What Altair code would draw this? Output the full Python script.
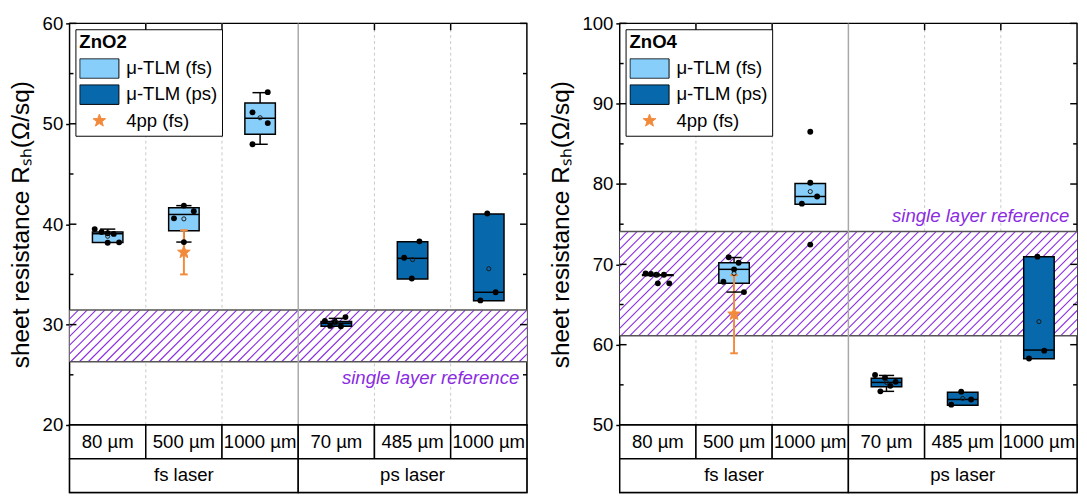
import math
import altair as alt
import pandas as pd

FONT = "Liberation Sans"
LIGHT = "#87CEFA"
DARK = "#0868AC"
ORANGE = "#F28A3C"
PURPLE = "#8A2BE2"
W = 468
H = 411
TH = 69
FS = 19
TFS = 25
COLW = W / 6

# ---------------- data ----------------
cats = ["80 µm", "500 µm", "1000 µm", "70 µm", "485 µm", "1000 µm"]
lasers = ["fs laser", "ps laser"]
kinds = ["fs", "fs", "fs", "ps", "ps", "ps"]
series = ["μ-TLM (fs)", "μ-TLM (ps)", "4pp (fs)"]
ytitle = "sheet resistance Rₛₕ(Ω/sq)"

# ZnO2
zno2_q1 = [38.17, 39.35, 48.96, 29.84, 34.55, 32.38]
zno2_med = [39.05, 40.97, 50.55, 30.14, 36.60, 33.22]
zno2_q3 = [39.22, 41.63, 52.08, 30.30, 38.25, 41.01]
zno2_wlo = [38.17, 38.22, 47.96, 29.84, 34.55, 32.38]
zno2_whi = [39.51, 41.85, 53.10, 30.62, 38.25, 41.01]
zno2_mean = [38.80, 40.53, 50.60, 30.20, 36.47, 35.56]
zno2_pts = [[39.51, 39.22, 39.10, 39.03, 38.15, 38.19],
            [41.85, 41.30, 40.58, 38.22],
            [53.15, 51.14, 50.07, 47.96],
            [30.36, 29.87, 30.26, 29.84, 30.75],
            [38.29, 36.66, 34.59],
            [41.07, 33.22, 32.41]]
zno2_jit = [[-0.17, -0.08, 0.0, 0.08, 0.0, 0.15],
            [0.0, 0.13, -0.13, 0.0],
            [0.1, -0.1, 0.1, -0.1],
            [-0.15, -0.08, -0.02, 0.06, 0.12],
            [0.09, -0.11, -0.01],
            [-0.02, 0.09, -0.11]]
zno2_4pp = [37.2, 35.0, 39.4]   # value, low, high (500 µm fs)
zno2_band = [26.3, 31.45]
zno2_ref = [5.9, 24.7]
zno2_dom = [20, 60]
zno2_major = [20, 30, 40, 50, 60]
zno2_minor = [25, 35, 45, 55]

# ZnO4
zno4_q1 = [68.62, 67.64, 77.49, 54.77, 52.45, 58.24]
zno4_med = [68.67, 69.38, 78.45, 55.30, 53.18, 59.33]
zno4_q3 = [68.72, 70.19, 80.07, 55.81, 54.07, 70.96]
zno4_wlo = [68.62, 66.55, 77.49, 54.19, 52.45, 58.24]
zno4_whi = [68.72, 70.85, 80.07, 56.17, 54.07, 70.96]
zno4_mean = [68.70, 68.86, 79.06, 55.30, 53.30, 62.87]
zno4_pts = [[68.86, 68.80, 68.70, 68.70, 67.64, 67.64],
            [70.88, 70.20, 69.38, 67.84, 66.55],
            [86.51, 80.16, 78.45, 77.56, 72.46],
            [56.22, 55.89, 54.88, 55.37, 54.19],
            [54.15, 53.18, 52.53],
            [70.96, 59.26, 58.28]]
zno4_jit = [[-0.16, -0.09, -0.02, 0.08, 0.0, 0.15],
            [-0.07, 0.06, 0.0, -0.14, 0.13],
            [0.0, 0.0, 0.09, -0.11, 0.0],
            [-0.15, -0.02, 0.05, 0.12, -0.08],
            [-0.02, 0.11, -0.15],
            [-0.02, 0.07, -0.13]]
zno4_4pp = [63.8, 58.93, 68.65]
zno4_band = [61.1, 74.1]
zno4_ref = [5.9, 75.95]
zno4_dom = [50, 100]
zno4_major = [50, 60, 70, 80, 90, 100]
zno4_minor = [55, 65, 75, 85, 95]


# ---------------- helpers (styling) ----------------
def star_path(R=0.34, ratio=0.42):
    pts = []
    for i in range(10):
        a = -math.pi / 2 + i * math.pi / 5
        r = R if i % 2 == 0 else R * ratio
        pts.append(f"{r*math.cos(a):.3f},{r*math.sin(a):.3f}")
    return "M" + "L".join(pts) + "Z"


RECT_PATH = "M-1,-0.5L1,-0.5L1,0.5L-1,0.5Z"
STAR_PATH = star_path()


def hatch_lines(band, dom, period_px=9.0):
    """decorative diagonal hatch: start/end x of each stripe (in column units)"""
    hpx = (band[1] - band[0]) / (dom[1] - dom[0]) * H
    shift = hpx / COLW
    step = period_px / COLW
    rows = []
    x = -shift
    while x < 6:
        rows.append({"x": x, "x2": x + shift, "lo": band[0], "hi": band[1]})
        x += step
    return pd.DataFrame(rows)


def panel(name, q1, med, q3, wlo, whi, mean, pts, jit, pp, band, ref, dom, major, minor):
    yscale = alt.Scale(domain=dom, nice=False, zero=False)
    yaxis = alt.Axis(values=major, title=ytitle, grid=False, domain=False, ticks=True,
                     tickSize=4, tickWidth=1.5, tickColor="black", labelFontSize=FS,
                     labelPadding=3, titleFontSize=TFS, titleFontWeight="normal",
                     titlePadding=9, labelColor="black", titleColor="black",
                     labelFont=FONT, titleFont=FONT)
    xscale = alt.Scale(domain=[0, 6], nice=False, zero=False)

    def X(f):
        return alt.X(f, type="quantitative", scale=xscale, axis=None)

    def Y(f):
        return alt.Y(f, type="quantitative", scale=yscale, axis=yaxis)

    c = [i + 0.5 for i in range(6)]
    box = pd.DataFrame({"c": c, "q1": q1, "med": med, "q3": q3, "wlo": wlo,
                        "whi": whi, "mean": mean, "kind": kinds})
    box["xl"] = box.c - 0.2
    box["xr"] = box.c + 0.2
    box["cl"] = box.c - 0.1
    box["cr"] = box.c + 0.1
    lowb = box[box.wlo < box.q1]
    upb = box[box.whi > box.q3]

    prow = []
    for i, (vals, js) in enumerate(zip(pts, jit)):
        for v, j in zip(vals, js):
            prow.append({"xp": i + 0.5 + j, "v": v})
    pdf = pd.DataFrame(prow)

    ppdf = pd.DataFrame({"c": [1.5], "v": [pp[0]], "lo": [pp[1]], "hi": [pp[2]],
                         "series": [series[2]]})
    ppcaps = pd.DataFrame({"xl": [1.45, 1.45], "xr": [1.55, 1.55], "v": [pp[1], pp[2]]})

    banddf = pd.DataFrame({"lo": [band[0]], "hi": [band[1]]})
    bandedges = pd.DataFrame({"v": band})

    leg = alt.Legend(title=name, orient="top-left", offset=6, padding=4, titlePadding=6.7,
                     rowPadding=5.7, labelOffset=7, symbolSize=1600, symbolStrokeWidth=1,
                     clipHeight=21,
                     strokeColor="black", fillColor="white", titleFontSize=FS,
                     titleFontWeight="bold", labelFontSize=FS, titleFont=FONT,
                     labelFont=FONT, labelColor="black", titleColor="black",
                     cornerRadius=0, labelLimit=400, symbolOpacity=1)

    dividers = alt.Chart(pd.DataFrame({"b": [1, 2, 4, 5]})).mark_rule(
        color="#c8c8c8", strokeDash=[3, 3], strokeWidth=1).encode(x=X("b"))
    bandbg = alt.Chart(banddf).mark_rect(fill="white").encode(
        x=alt.value(0), x2=alt.value(W), y=Y("lo"), y2=alt.Y2("hi"))
    hatch = alt.Chart(hatch_lines(band, dom)).mark_rule(
        color=PURPLE, strokeWidth=1.1, clip=True).encode(
        x=X("x"), x2=alt.X2("x2"), y=Y("lo"), y2=alt.Y2("hi"))
    bandln = alt.Chart(bandedges).mark_rule(color="#555555", strokeWidth=1.5).encode(y=Y("v"))
    solid = alt.Chart(pd.DataFrame({"b": [3]})).mark_rule(
        color="#a8a8a8", strokeWidth=1.5).encode(x=X("b"))
    wl = alt.Chart(lowb).mark_rule(color="black", strokeWidth=1.5).encode(
        x=X("c"), y=Y("wlo"), y2=alt.Y2("q1"))
    wu = alt.Chart(upb).mark_rule(color="black", strokeWidth=1.5).encode(
        x=X("c"), y=Y("q3"), y2=alt.Y2("whi"))
    boxfs = alt.Chart(box[box.kind == "fs"]).mark_rect(
        fill=LIGHT, stroke="black", strokeWidth=1.5).encode(
        x=X("xl"), x2=alt.X2("xr"), y=Y("q1"), y2=alt.Y2("q3"))
    boxps = alt.Chart(box[box.kind == "ps"]).mark_rect(
        fill=DARK, stroke="black", strokeWidth=1.5).encode(
        x=X("xl"), x2=alt.X2("xr"), y=Y("q1"), y2=alt.Y2("q3"))
    medl = alt.Chart(box).mark_rule(color="black", strokeWidth=1.5).encode(
        x=X("xl"), x2=alt.X2("xr"), y=Y("med"))
    err = alt.Chart(ppdf).mark_rule(color=ORANGE, strokeWidth=2).encode(
        x=X("c"), y=Y("lo"), y2=alt.Y2("hi"))
    errcap = alt.Chart(ppcaps).mark_rule(color=ORANGE, strokeWidth=2).encode(
        x=X("xl"), x2=alt.X2("xr"), y=Y("v"))
    capl = alt.Chart(lowb).mark_rule(color="black", strokeWidth=1.5).encode(
        x=X("cl"), x2=alt.X2("cr"), y=Y("wlo"))
    capu = alt.Chart(upb).mark_rule(color="black", strokeWidth=1.5).encode(
        x=X("cl"), x2=alt.X2("cr"), y=Y("whi"))
    dots = alt.Chart(pdf).mark_circle(color="black", size=36, opacity=1).encode(
        x=X("xp"), y=Y("v"))
    means = alt.Chart(box).mark_point(shape="circle", filled=False, color="#1a1a1a",
                                      size=18, strokeWidth=1, opacity=1).encode(
        x=X("c"), y=Y("mean"))
    star = alt.Chart(ppdf).mark_point(filled=True, size=1600, opacity=1, strokeWidth=1).encode(
        x=X("c"), y=Y("v"),
        shape=alt.Shape("series:N", scale=alt.Scale(domain=series, range=[RECT_PATH, RECT_PATH, STAR_PATH]), legend=leg),
        fill=alt.Fill("series:N", scale=alt.Scale(domain=series, range=[LIGHT, DARK, ORANGE]), legend=leg),
        stroke=alt.Stroke("series:N", scale=alt.Scale(domain=series, range=["black", "black", ORANGE]), legend=leg),
    )
    reft = alt.Chart(pd.DataFrame({"x": [ref[0]], "y": [ref[1]], "t": ["single layer reference"]})).mark_text(
        align="right", baseline="middle", fontStyle="italic", fontSize=FS, color=PURPLE, font=FONT).encode(
        x=X("x"), y=Y("y"), text="t:N")

    majdf = pd.DataFrame({"v": major})
    mindf = pd.DataFrame({"v": minor})
    tk = dict(color="black", strokeWidth=1.5)
    lmaj = alt.Chart(majdf).mark_rule(**tk).encode(x=alt.value(0), x2=alt.value(7), y=Y("v"))
    lmin = alt.Chart(mindf).mark_rule(**tk).encode(x=alt.value(0), x2=alt.value(4), y=Y("v"))
    rmaj = alt.Chart(majdf).mark_rule(**tk).encode(x=alt.value(W - 7), x2=alt.value(W), y=Y("v"))
    rmin = alt.Chart(mindf).mark_rule(**tk).encode(x=alt.value(W - 4), x2=alt.value(W), y=Y("v"))
    ttop = alt.Chart(pd.DataFrame({"b": [1, 2, 4, 5]})).mark_rule(**tk).encode(
        x=X("b"), y=alt.value(0), y2=alt.value(7))

    plot = alt.layer(dividers, bandbg, hatch, bandln, solid, wl, wu, boxfs, boxps, medl, err,
                     capl, capu, errcap, dots, means, star, reft, lmaj, lmin, rmaj, rmin,
                     ttop).properties(width=W, height=H)

    rows = []
    for i, lab in enumerate(cats):
        rows.append({"x0": i, "x1": i + 1, "y0": 1, "y1": 2, "xm": i + 0.5, "ym": 1.5, "lab": lab})
    for i, lab in enumerate(lasers):
        rows.append({"x0": 3 * i, "x1": 3 * i + 3, "y0": 0, "y1": 1, "xm": 3 * i + 1.5, "ym": 0.5, "lab": lab})
    tdf = pd.DataFrame(rows)
    txs = alt.Scale(domain=[0, 6], nice=False, zero=False)
    tys = alt.Scale(domain=[0, 2], nice=False, zero=False)
    cells = alt.Chart(tdf).mark_rect(fill="white", stroke="black", strokeWidth=1.5).encode(
        x=alt.X("x0:Q", scale=txs, axis=None), x2="x1",
        y=alt.Y("y0:Q", scale=tys, axis=None), y2="y1")
    labs = alt.Chart(tdf).mark_text(fontSize=FS, font=FONT, color="black", baseline="middle").encode(
        x=alt.X("xm:Q", scale=txs, axis=None), y=alt.Y("ym:Q", scale=tys, axis=None), text="lab:N")
    table = alt.layer(cells, labs).properties(width=W, height=TH)

    return alt.vconcat(plot, table, spacing=0, bounds="flush").resolve_scale(
        x="independent", y="independent")


left = panel("ZnO2", zno2_q1, zno2_med, zno2_q3, zno2_wlo, zno2_whi, zno2_mean, zno2_pts,
             zno2_jit, zno2_4pp, zno2_band, zno2_ref, zno2_dom, zno2_major, zno2_minor)
right = panel("ZnO4", zno4_q1, zno4_med, zno4_q3, zno4_wlo, zno4_whi, zno4_mean, zno4_pts,
              zno4_jit, zno4_4pp, zno4_band, zno4_ref, zno4_dom, zno4_major, zno4_minor)

chart = alt.hconcat(left, right, spacing=19).resolve_scale(
    fill="independent", shape="independent", stroke="independent").resolve_legend(
    fill="independent", shape="independent", stroke="independent").properties(
    padding=0).configure(font=FONT).configure_view(stroke="black", strokeWidth=1.5)

chart.save("out.html", embed_options={"renderer": "svg", "actions": False})
